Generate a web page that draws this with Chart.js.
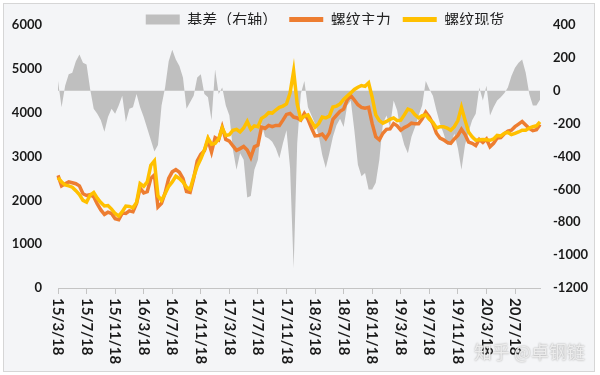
<!DOCTYPE html>
<html>
<head>
<meta charset="utf-8">
<script src="https://cdn.jsdelivr.net/npm/chart.js@4.4.1/dist/chart.umd.min.js"></script>
<style>
  html, body { margin: 0; padding: 0; background: #fff; }
  #wrap { position: relative; width: 600px; height: 375px; }
  #frame { position: absolute; left: 3px; top: 3px; width: 590px; height: 367px; border: 1px solid #d6d6d6; background: #f4f5f7; }
  canvas { position: absolute; left: 0; top: 0; }
  #mark { position: absolute; left: 474px; top: 338px; font: 18px "Noto Sans CJK SC", sans-serif; color: #ececec; text-shadow: 0 0 2px #9a9a9a; }
</style>
</head>
<body>
<div id="wrap">
  <div id="frame"></div>
  <canvas id="chart" width="600" height="375"></canvas>
  <div id="mark">知乎 @卓钢链</div>
</div>
<script>
// semi-monthly points, 15/3/18 .. 20/10
const categories = [];
for (let m = 0; m < 68; m++) {
  const yy = 15 + Math.floor((m + 2) / 12);
  const mo = (m + 2) % 12 + 1;
  const yy2 = 15 + Math.floor((m + 3) / 12);
  const mo2 = (m + 3) % 12 + 1;
  categories.push(`${yy}/${mo}/18`, `${yy2}/${mo2}/3`);
}

const tickLabels = [
  "15/3/18", "15/7/18", "15/11/18", "16/3/18", "16/7/18", "16/11/18",
  "17/3/18", "17/7/18", "17/11/18", "18/3/18", "18/7/18", "18/11/18",
  "19/3/18", "19/7/18", "19/11/18", "20/3/18", "20/7/18",
];

// 基差（右轴）
const basis = [
  60, -100, 30, 100, 110, 180, 220, 170, 160, 10,
  -110, -140, -180, -250, -160, -110, -140, -90, -30, -190,
  -110, -100, -20, -100, -160, -230, -300, -370, -330, -90,
  20, 180, 250, 190, 150, 80, -110, -70, -30, 80,
  100, -20, -40, -180, 130, -20, 20, -90, -150, -360,
  -480, -380, -420, -650, -640, -480, -420, -200, -280, -290,
  -310, -350, -410, -320, -240, -470, -1080, -320, -20, 60,
  -100, -150, -200, -270, -390, -470, -380, -280, -210, -170,
  -220, -90, -60, -240, -450, -520, -500, -600, -600, -560,
  -420, -200, -150, -220, -60, -120, -250, -330, -380, -280,
  -220, -150, -90, 60, 10, -30, -120, -200, -260, -330,
  -330, -260, -350, -480, -330, -250, -180, -140, 20, -60,
  30, -150, -100, -60, -40, -15, 20, 90, 140, 170,
  190, 110, -20, -90, -90, -55,
];

// 螺纹主力
const futures = [
  2570, 2330, 2380, 2420, 2400, 2380, 2330, 2150, 2110, 2130,
  2080, 1920, 1780, 1680, 1730, 1700, 1580, 1560, 1710, 1700,
  1760, 1740, 1930, 2280, 2170, 2200, 2500, 2580, 1850, 1930,
  2170, 2500, 2650, 2700, 2640, 2500, 2200, 2180, 2500, 2900,
  3050, 3130, 3380, 3100, 3430, 3380, 3670, 3390, 3350, 3240,
  3140, 3180, 3230, 3150, 2980, 3220, 3260, 3670, 3640, 3710,
  3680, 3710, 3710, 3830, 3960, 3980, 3900, 3880, 3830, 3980,
  3850, 3650, 3470, 3480, 3510, 3410, 3540, 3850, 3940, 4030,
  4080, 4290, 4390, 4290, 4180, 4120, 4100, 4120, 3750, 3450,
  3380, 3530, 3620, 3630, 3750, 3700, 3600, 3660, 3700, 3760,
  3750, 3750, 3860, 4010, 3900, 3750, 3530, 3420, 3380, 3320,
  3300, 3400, 3480, 3620, 3500, 3330, 3300, 3250, 3390, 3320,
  3400, 3220, 3300, 3420, 3430, 3520, 3580, 3600, 3680, 3740,
  3800, 3720, 3640, 3590, 3610, 3730,
];

// 螺纹现货
const spot = [
  2520, 2420, 2350, 2330, 2300, 2220, 2130, 2000, 1960, 2120,
  2180, 2050, 1950, 1870, 1880, 1800, 1700, 1640, 1740, 1870,
  1860, 1830, 1950, 2380, 2320, 2420, 2800, 2900, 2100, 2000,
  2150, 2320, 2420, 2550, 2500, 2420, 2300, 2250, 2530, 2780,
  2950, 3150, 3420, 3280, 3300, 3400, 3650, 3480, 3500, 3600,
  3620, 3560, 3650, 3800, 3620, 3700, 3680, 3870, 3920, 4000,
  3990, 4060, 4120, 4150, 4200, 4450, 4950, 4200, 3850, 3920,
  3950, 3800, 3670, 3750, 3900, 3880, 3920, 4130, 4150, 4200,
  4300, 4380, 4450, 4530, 4580, 4620, 4600, 4680, 4350, 3950,
  3820, 3760, 3800, 3850, 3880, 3820, 3830, 3950, 4080, 4050,
  3950, 3880, 3930, 3950, 3850, 3780, 3650, 3680, 3680, 3650,
  3600, 3680, 3820, 4120, 3830, 3560, 3450, 3370, 3380, 3390,
  3380, 3370, 3400, 3480, 3470, 3530, 3550, 3500, 3530, 3560,
  3600, 3600, 3650, 3680, 3700, 3790,
];

const tickFont = { family: "Lato, 'Liberation Sans', sans-serif", size: 13, weight: "bold" };

// legend sits above the plot, takes little room, shifted right like the original
const legendFit = {
  id: "legendFit",
  beforeInit(chart) {
    const fit = chart.legend.fit;
    chart.legend.fit = function () {
      fit.call(this);
      this.height = 25;
    };
  },
  afterLayout(chart) {
    chart.legend.left = 50;
  },
};

// x labels read top-to-bottom (rotated clockwise)
const xLabels = {
  id: "xLabels",
  afterDraw(chart) {
    const s = chart.scales.x;
    const c = chart.ctx;
    c.save();
    c.fillStyle = "#1a1a1a";
    c.font = "bold 15px Lato, 'Liberation Sans', sans-serif";
    c.textAlign = "left";
    c.textBaseline = "middle";
    tickLabels.forEach((t, i) => {
      const x = s.getPixelForTick(i * 8);
      c.save();
      c.translate(x, s.top + 10);
      c.rotate(Math.PI / 2);
      c.fillText(t, 0, 0);
      c.restore();
    });
    c.restore();
  },
};

new Chart(document.getElementById("chart"), {
  type: "line",
  data: {
    labels: categories,
    datasets: [
      {
        label: "基差（右轴）",
        data: basis,
        yAxisID: "y1",
        backgroundColor: "#bfbfbf",
        borderColor: "#bfbfbf",
        borderWidth: 0,
        fill: "origin",
        pointRadius: 0,
        pointStyle: "rect",
        tension: 0,
        order: 3,
      },
      {
        label: "螺纹主力",
        data: futures,
        yAxisID: "y",
        borderColor: "#ed7d31",
        backgroundColor: "#ed7d31",
        borderWidth: 3.5,
        fill: false,
        pointRadius: 0,
        pointStyle: "line",
        tension: 0,
        order: 2,
      },
      {
        label: "螺纹现货",
        data: spot,
        yAxisID: "y",
        borderColor: "#ffc000",
        backgroundColor: "#ffc000",
        borderWidth: 3.5,
        fill: false,
        pointRadius: 0,
        pointStyle: "line",
        tension: 0,
        order: 1,
      },
    ],
  },
  options: {
    responsive: false,
    animation: false,
    layout: { padding: { left: 0, right: 0, top: 0, bottom: 0 } },
    plugins: {
      legend: {
        position: "top",
        labels: {
          usePointStyle: true,
          pointStyleWidth: 34,
          boxHeight: 10,
          padding: 12,
          color: "#222",
          font: { family: "'Noto Sans CJK SC', sans-serif", size: 15 },
          sort: (a, b) => a.datasetIndex - b.datasetIndex,
          generateLabels: (chart) =>
            Chart.defaults.plugins.legend.labels.generateLabels(chart).map((item) => {
              if (item.pointStyle === "line") item.lineWidth = 5;
              return item;
            }),
        },
      },
      tooltip: { enabled: false },
      filler: { drawTime: "beforeDatasetsDraw" },
    },
    scales: {
      x: {
        ticks: {
          autoSkip: false,
          minRotation: 90,
          maxRotation: 90,
          color: "transparent",
          font: { family: "Lato, sans-serif", size: 15, weight: "bold" },
          callback: (v, i) => (i % 8 === 0 ? tickLabels[i / 8] : ""),
        },
        grid: {
          drawOnChartArea: false,
          tickLength: 6,
          color: (ctx) => (ctx.index % 8 === 0 ? "#c4c4c4" : "transparent"),
        },
        border: { color: "#c4c4c4" },
        afterFit: (s) => { s.height = 87; },
      },
      y: {
        position: "left",
        min: 0,
        max: 6000,
        ticks: { stepSize: 1000, padding: 16, color: "#1a1a1a", font: tickFont, callback: (v) => String(v) },
        grid: { display: false, drawTicks: false },
        border: { display: false },
        afterFit: (s) => { s.width = 58; },
      },
      y1: {
        position: "right",
        min: -1200,
        max: 400,
        ticks: { stepSize: 200, padding: 13, color: "#1a1a1a", font: tickFont, callback: (v) => String(v) },
        grid: { display: false, drawTicks: false },
        border: { display: false },
        afterFit: (s) => { s.width = 60; },
      },
    },
  },
  plugins: [legendFit, xLabels],
});
</script>
</body>
</html>
